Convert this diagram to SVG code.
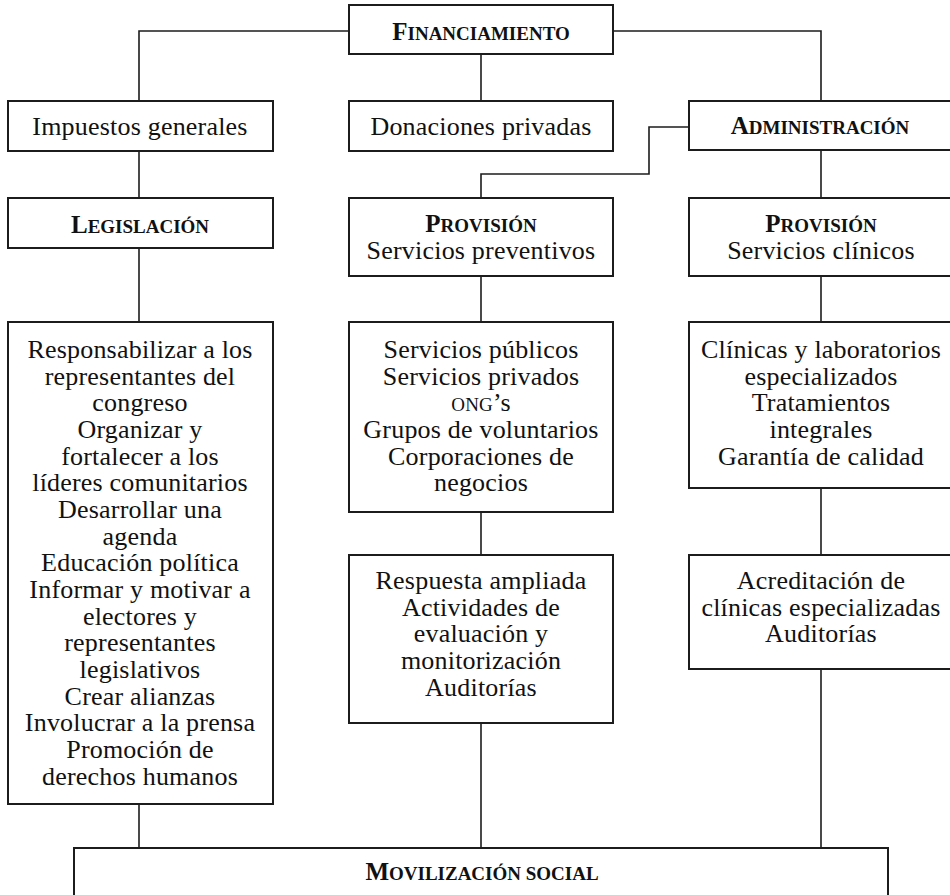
<svg xmlns="http://www.w3.org/2000/svg" width="950" height="895" viewBox="0 0 950 895">
<style>
.box{fill:#fff;stroke:#1c1c1c;stroke-width:2}
.ln{fill:none;stroke:#1c1c1c;stroke-width:1.6}
.t{font-family:"Liberation Serif","Times New Roman",serif;font-size:26px;text-anchor:middle;fill:#111;letter-spacing:0.2px}
.h{font-weight:bold;font-size:25px;letter-spacing:0}
.sc{font-size:19px}
</style>
<rect width="950" height="895" fill="#fff"/>
<g id="connectors">
<path class="ln" d="M349,31 H139 V101"/>
<path class="ln" d="M613,31 H821 V101"/>
<path class="ln" d="M481,54 V101"/>
<path class="ln" d="M139,151 V198"/>
<path class="ln" d="M689,127 H649 V174 H481 V198"/>
<path class="ln" d="M821,150 V198"/>
<path class="ln" d="M139,248 V322"/>
<path class="ln" d="M481,276 V322"/>
<path class="ln" d="M821,276 V322"/>
<path class="ln" d="M481,512 V555"/>
<path class="ln" d="M821,488 V555"/>
<path class="ln" d="M139,804 V848"/>
<path class="ln" d="M481,723 V848"/>
<path class="ln" d="M821,669 V848"/>
</g>
<g id="financiamiento">
<rect class="box" x="349" y="5" width="264" height="49"/>
<text class="t h" x="481" y="40">F<tspan class="sc">INANCIAMIENTO</tspan></text>
</g>
<g id="impuestos">
<rect class="box" x="8" y="101" width="265" height="50"/>
<text class="t" x="140" y="135">Impuestos generales</text>
</g>
<g id="donaciones">
<rect class="box" x="349" y="101" width="264" height="50"/>
<text class="t" x="481" y="135">Donaciones privadas</text>
</g>
<g id="administracion">
<rect class="box" x="689" y="101" width="264" height="49"/>
<text class="t h" x="820" y="134">A<tspan class="sc">DMINISTRACIÓN</tspan></text>
</g>
<g id="legislacion">
<rect class="box" x="8" y="198" width="265" height="50"/>
<text class="t h" x="140" y="233">L<tspan class="sc">EGISLACIÓN</tspan></text>
</g>
<g id="provision-preventivos">
<rect class="box" x="349" y="198" width="264" height="78"/>
<text class="t h" x="481" y="232">P<tspan class="sc">ROVISIÓN</tspan></text>
<text class="t" x="481" y="259">Servicios preventivos</text>
</g>
<g id="provision-clinicos">
<rect class="box" x="689" y="198" width="264" height="78"/>
<text class="t h" x="821" y="232">P<tspan class="sc">ROVISIÓN</tspan></text>
<text class="t" x="821" y="259">Servicios clínicos</text>
</g>
<g id="legislacion-acciones">
<rect class="box" x="8" y="322" width="265" height="482"/>
<text class="t" x="140" y="358">Responsabilizar a los</text>
<text class="t" x="140" y="384.7">representantes del</text>
<text class="t" x="140" y="411.3">congreso</text>
<text class="t" x="140" y="438">Organizar y</text>
<text class="t" x="140" y="464.7">fortalecer a los</text>
<text class="t" x="140" y="491.3">líderes comunitarios</text>
<text class="t" x="140" y="518">Desarrollar una</text>
<text class="t" x="140" y="544.7">agenda</text>
<text class="t" x="140" y="571.3">Educación política</text>
<text class="t" x="140" y="598">Informar y motivar a</text>
<text class="t" x="140" y="624.7">electores y</text>
<text class="t" x="140" y="651.3">representantes</text>
<text class="t" x="140" y="678">legislativos</text>
<text class="t" x="140" y="704.7">Crear alianzas</text>
<text class="t" x="140" y="731.3">Involucrar a la prensa</text>
<text class="t" x="140" y="758">Promoción de</text>
<text class="t" x="140" y="784.7">derechos humanos</text>
</g>
<g id="servicios">
<rect class="box" x="349" y="322" width="264" height="190"/>
<text class="t" x="481" y="358">Servicios públicos</text>
<text class="t" x="481" y="384.7">Servicios privados</text>
<text class="t" x="481" y="411.3"><tspan class="sc">ONG</tspan>’s</text>
<text class="t" x="481" y="438">Grupos de voluntarios</text>
<text class="t" x="481" y="464.7">Corporaciones de</text>
<text class="t" x="481" y="491.3">negocios</text>
</g>
<g id="clinicas">
<rect class="box" x="689" y="322" width="264" height="166"/>
<text class="t" x="821" y="358">Clínicas y laboratorios</text>
<text class="t" x="821" y="384.7">especializados</text>
<text class="t" x="821" y="411.3">Tratamientos</text>
<text class="t" x="821" y="438">integrales</text>
<text class="t" x="821" y="464.7">Garantía de calidad</text>
</g>
<g id="respuesta">
<rect class="box" x="349" y="555" width="264" height="168"/>
<text class="t" x="481" y="589">Respuesta ampliada</text>
<text class="t" x="481" y="615.7">Actividades de</text>
<text class="t" x="481" y="642.3">evaluación y</text>
<text class="t" x="481" y="669">monitorización</text>
<text class="t" x="481" y="695.7">Auditorías</text>
</g>
<g id="acreditacion">
<rect class="box" x="689" y="555" width="264" height="114"/>
<text class="t" x="821" y="589">Acreditación de</text>
<text class="t" x="821" y="615.7">clínicas especializadas</text>
<text class="t" x="821" y="642.3">Auditorías</text>
</g>
<g id="movilizacion">
<rect class="box" x="74" y="848" width="814" height="60"/>
<text class="t h" x="482" y="880">M<tspan class="sc">OVILIZACIÓN SOCIAL</tspan></text>
</g>
</svg>
